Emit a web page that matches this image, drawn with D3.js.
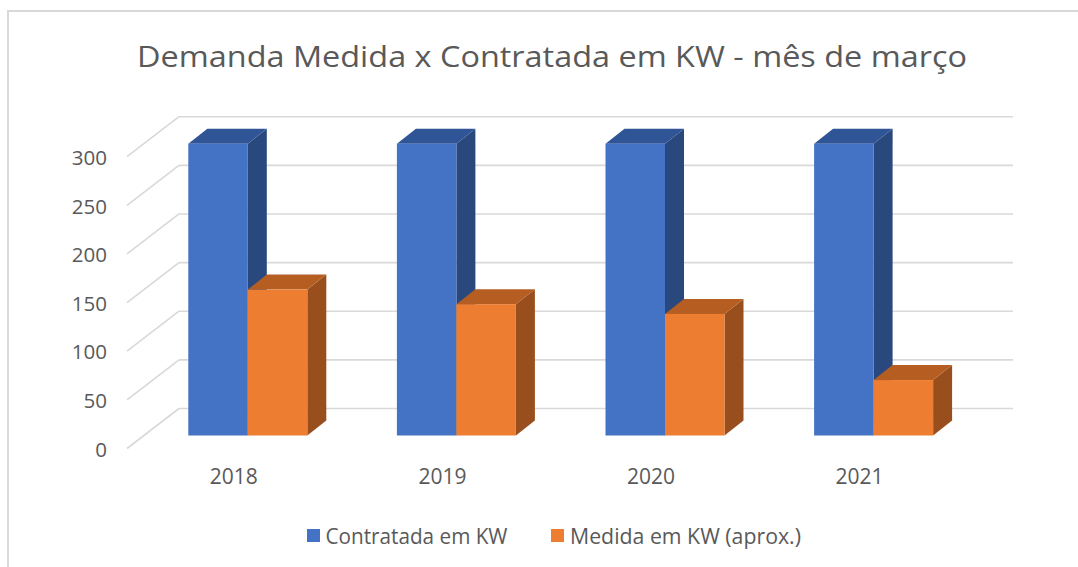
<!DOCTYPE html>
<html>
<head>
<meta charset="utf-8">
<script src="https://cdn.jsdelivr.net/npm/d3@7/dist/d3.min.js"></script>
<style>
  html, body { margin: 0; padding: 0; background: #ffffff; }
  svg { display: block; font-family: "Open Sans", "Noto Sans", sans-serif; }
</style>
</head>
<body>
<svg id="chart" width="1078" height="567"></svg>
<script>
// ---- data ----
const title = "Demanda Medida x Contratada em KW - mês de março";
const categories = ["2018", "2019", "2020", "2021"];
const seriesNames = ["Contratada em KW", "Medida em KW (aprox.)"];
const contratada = [300, 300, 300, 300];
const medida = [150, 135, 125, 57];
const yTicks = [0, 50, 100, 150, 200, 250, 300];

// ---- styles ----
const textColor = "#595959";
const gridColor = "#d9d9d9";
const faceColors = [
  { front: "#4472C4", top: "#305596", side: "#29487E" },
  { front: "#ED7D31", top: "#B65E22", side: "#994F1D" }
];

const svg = d3.select("#chart");

// chart border
svg.append("rect")
  .attr("x", 8).attr("y", 11).attr("width", 1200).attr("height", 700)
  .attr("fill", "#fff").attr("stroke", gridColor).attr("stroke-width", 2);

// title
svg.append("text")
  .attr("x", 137).attr("y", 67)
  .attr("font-size", 29.5).attr("fill", textColor)
  .attr("textLength", 830).attr("lengthAdjust", "spacingAndGlyphs")
  .text(title);

// ---- 3D geometry ----
const y = d3.scaleLinear().domain([0, 300]).range([408.5, 116.7]); // back wall
const wallLeft = 179, wallRight = 1013;
const sideDx = -52, sideDy = 40;    // side wall depth (front-left)
const barOffsetY = 27;              // bar front plane relative to back wall
const depthDx = 19, depthDy = -15;  // bar depth

// back wall gridlines + side wall diagonals
const grid = svg.append("g").attr("stroke", gridColor).attr("stroke-width", 1.6).attr("fill", "none");
yTicks.forEach(v => {
  grid.append("line")
    .attr("x1", wallLeft).attr("x2", wallRight)
    .attr("y1", y(v)).attr("y2", y(v));
  grid.append("line")
    .attr("x1", wallLeft + sideDx).attr("y1", y(v) + sideDy)
    .attr("x2", wallLeft).attr("y2", y(v));
});

// y tick labels
svg.append("g").selectAll("text").data(yTicks).join("text")
  .attr("x", 107)
  .attr("y", d => y(d) + sideDy + 1)
  .attr("dy", "0.35em")
  .attr("text-anchor", "end")
  .attr("font-size", 20.5).attr("fill", textColor)
  .text(d => d);

// category band scale
const x0 = d3.scaleBand().domain(categories)
  .range([143.5, 977.9]).paddingInner(0.4295).paddingOuter(0.4295 / 2);
const x1 = d3.scaleBand().domain([0, 1]).range([0, x0.bandwidth()]).padding(0);

const values = [contratada, medida];

const bars = svg.append("g");
categories.forEach((cat, i) => {
  [0, 1].forEach(s => {
    const v = values[s][i];
    const xl = x0(cat) + x1(s);
    const xr = xl + x1.bandwidth();
    const yt = y(v) + barOffsetY;
    const yb = y(0) + barOffsetY;
    const c = faceColors[s];
    const g = bars.append("g");
    // side face
    g.append("polygon")
      .attr("points", [[xr, yt], [xr + depthDx, yt + depthDy], [xr + depthDx, yb + depthDy], [xr, yb]].map(p => p.join(",")).join(" "))
      .attr("fill", c.side);
    // top face
    g.append("polygon")
      .attr("points", [[xl, yt], [xl + depthDx, yt + depthDy], [xr + depthDx, yt + depthDy], [xr, yt]].map(p => p.join(",")).join(" "))
      .attr("fill", c.top);
    // front face
    g.append("rect")
      .attr("x", xl).attr("y", yt)
      .attr("width", xr - xl).attr("height", yb - yt)
      .attr("fill", c.front);
  });
});

// category labels
svg.append("g").selectAll("text").data(categories).join("text")
  .attr("x", d => x0(d) + x0.bandwidth() / 2 - 14)
  .attr("y", 484)
  .attr("text-anchor", "middle")
  .attr("font-size", 21).attr("fill", textColor)
  .text(d => d);

// legend
const legendItems = [
  { name: seriesNames[0], color: faceColors[0].front, sx: 307, tx: 325.5, w: 182 },
  { name: seriesNames[1], color: faceColors[1].front, sx: 551, tx: 570, w: 231 }
];
const lg = svg.append("g");
legendItems.forEach(it => {
  lg.append("rect").attr("x", it.sx).attr("y", 529).attr("width", 13).attr("height", 13).attr("fill", it.color);
  lg.append("text").attr("x", it.tx).attr("y", 543.5)
    .attr("font-size", 21).attr("fill", textColor)
    .attr("textLength", it.w).attr("lengthAdjust", "spacingAndGlyphs")
    .text(it.name);
});
</script>
</body>
</html>
